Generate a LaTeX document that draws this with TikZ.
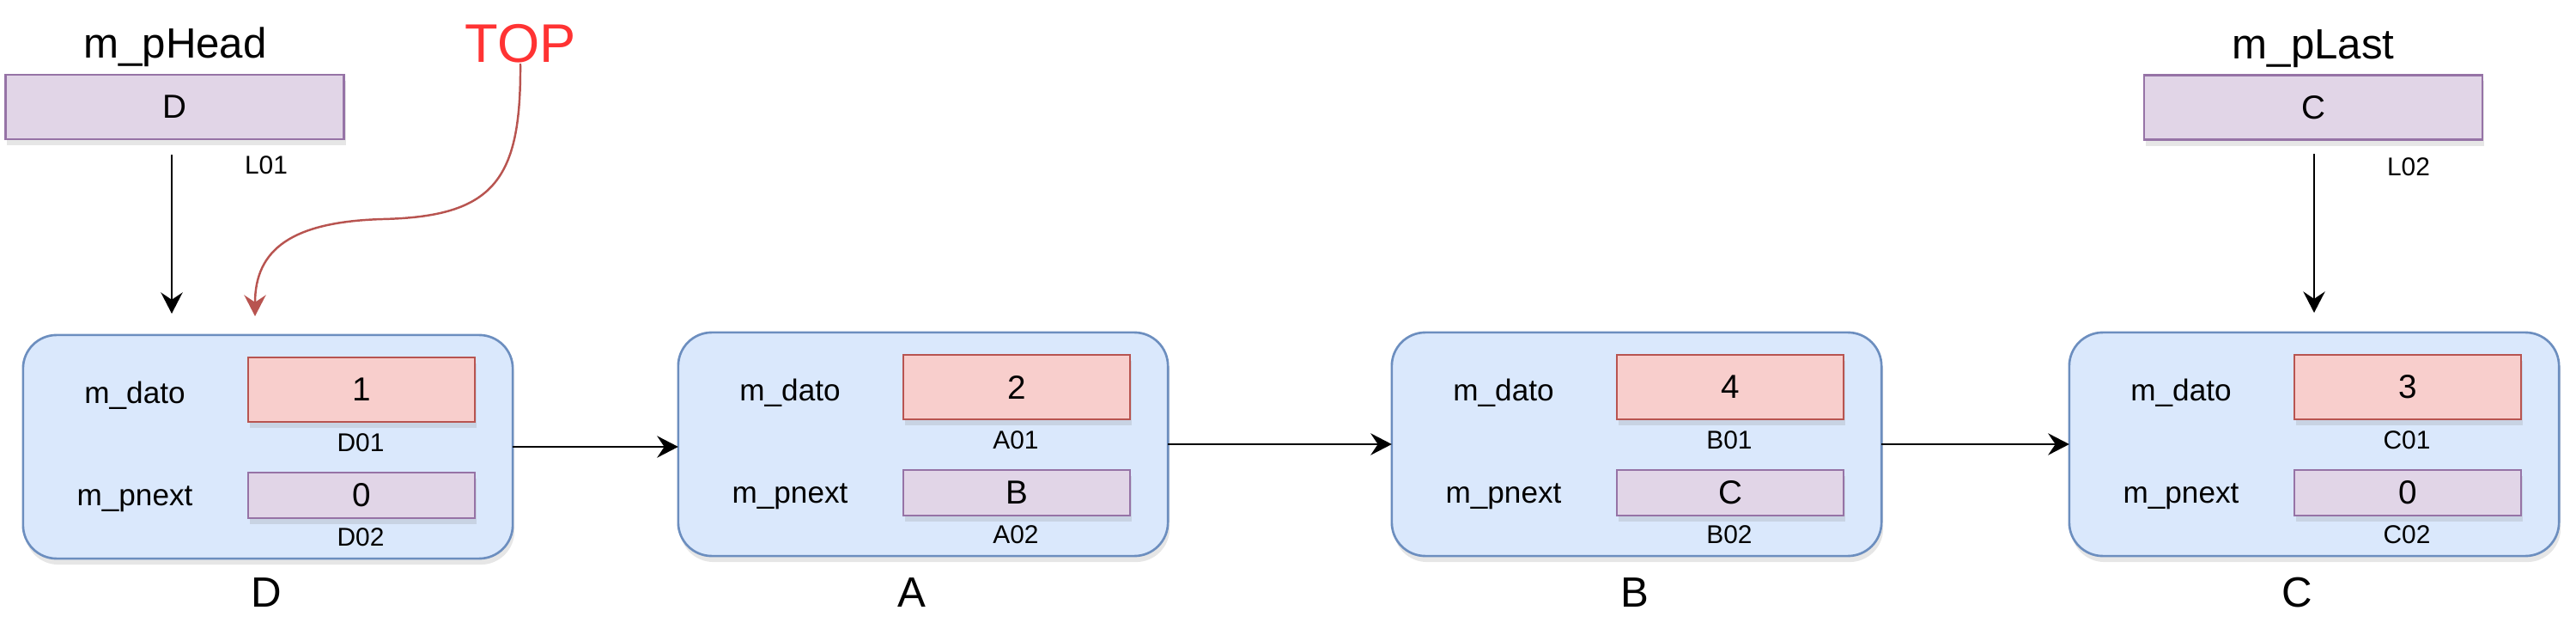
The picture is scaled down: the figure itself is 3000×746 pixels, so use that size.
\documentclass[tikz,border=0pt]{standalone}
\usepackage{fontspec}
\setmainfont{Liberation Sans}
\usetikzlibrary{arrows.meta,shadows}
\definecolor{blueF}{HTML}{DAE8FC}
\definecolor{blueS}{HTML}{6C8EBF}
\definecolor{redF}{HTML}{F8CECC}
\definecolor{redS}{HTML}{B85450}
\definecolor{purF}{HTML}{E1D5E7}
\definecolor{purS}{HTML}{9673A6}
\definecolor{topR}{HTML}{FF3333}
\begin{document}
\begin{tikzpicture}[x=0.01cm,y=-0.01cm,
  shd/.style={drop shadow={opacity=0.2,shadow xshift=0.02cm,shadow yshift=-0.07cm}},
  cont/.style={draw=blueS,fill=blueF,line width=0.75pt,rounded corners=0.39cm,minimum width=5.70cm,minimum height=2.60cm,inner sep=0,outer sep=0,shd},
  databox/.style={draw=redS,fill=redF,line width=0.75pt,minimum width=2.64cm,minimum height=0.75cm,inner sep=0,outer sep=0,font=\fontsize{11}{13}\selectfont,shd},
  nextbox/.style={draw=purS,fill=purF,line width=0.75pt,minimum width=2.64cm,minimum height=0.53cm,inner sep=0,outer sep=0,font=\fontsize{11}{13}\selectfont,shd},
  ptrbox/.style={draw=purS,fill=purF,line width=0.75pt,minimum width=3.94cm,minimum height=0.75cm,inner sep=0,outer sep=0,font=\fontsize{11}{13}\selectfont,shd},
  fld/.style={font=\fontsize{10}{12}\selectfont,inner sep=0},
  addr/.style={font=\fontsize{8.5}{10}\selectfont,inner sep=0},
  big/.style={font=\fontsize{14}{16}\selectfont,inner sep=0},
  tip/.style={-{Stealth[length=7pt,width=7.2pt,inset=2.4pt]}},
  arr/.style={line width=0.7pt,tip},
]
\path[use as bounding box] (0,0) rectangle (3000,746);

% list nodes
\foreach \n/\L/\T/\v/\p/\lx in {D/27/390/1/0/310, A/790/387/2/B/1062, B/1621/387/4/C/1904, C/2410/387/3/0/2675}{
  \node[cont] (\n) at ({\L+285},{\T+130}) {};
  \node[fld] (\n-f1) at ({\L+130},{\T+70}) {m\_dato};
  \node[databox] (\n-data) at ({\L+394},{\T+63.5}) {\v};
  \node[addr] (\n-a1) at ({\L+393},{\T+125}) {\n01};
  \node[fld] (\n-f2) at ({\L+130},{\T+191}) {m\_pnext};
  \node[nextbox] (\n-next) at ({\L+394},{\T+186.5}) {\p};
  \node[addr] (\n-a2) at ({\L+393},{\T+235}) {\n02};
  \node[big] (\n-lab) at (\lx,690) {\n};
}

% links
\draw[arr] (D.east) -- (D.east -| A.west);
\draw[arr] (A.east) -- (A.east -| B.west);
\draw[arr] (B.east) -- (B.east -| C.west);

% head pointer
\node[big,anchor=base] (hdt) at (204,68) {m\_pHead};
\node[ptrbox] (hd) at (203.5,124.5) {D};
\node[addr] (l01) at (310,192) {L01};
\coordinate (h1) at (200,180);
\coordinate (h2) at (200,365);
\draw[arr] (h1) -- (h2);

% last pointer
\node[big,anchor=base] (lst) at (2694,69) {m\_pLast};
\node[ptrbox] (ls) at (2694,125) {C};
\node[addr] (l02) at (2805,194) {L02};
\coordinate (c1) at (2695,179);
\coordinate (c2) at (2695,364);
\draw[arr] (c1) -- (c2);

% TOP
\node[font=\fontsize{18}{20}\selectfont,text=topR,inner sep=0] (topnote) at (606,51) {TOP};
\coordinate (tp) at (297,368);
\draw[redS,line width=0.7pt,tip] (topnote.south) .. controls (607,210) and (575,252) .. (446,255) .. controls (340,258) and (297,290) .. (tp);
\end{tikzpicture}
\end{document}
